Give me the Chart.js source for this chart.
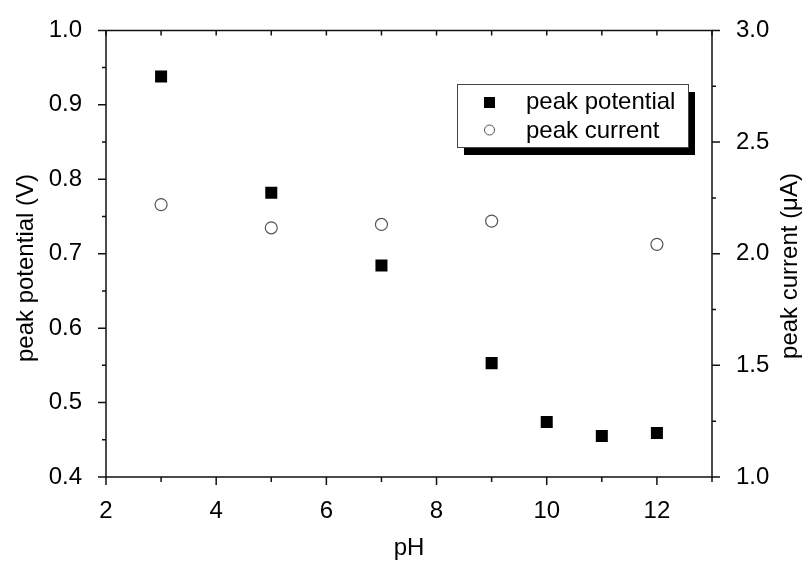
<!DOCTYPE html>
<html>
<head>
<meta charset="utf-8">
<script src="https://cdn.jsdelivr.net/npm/chart.js@4/dist/chart.umd.min.js"></script>
<style>
  body { margin: 0; background: #fff; }
  canvas { display: block; }
</style>
</head>
<body>
<canvas id="chart" width="803" height="561"></canvas>
<script>
// data
const phPotential = [3, 5, 7, 9, 10, 11, 12];
const peakPotential = [0.938, 0.782, 0.684, 0.553, 0.474, 0.455, 0.459];
const phCurrent = [3, 5, 7, 9, 12];
const peakCurrent = [2.22, 2.116, 2.131, 2.146, 2.042];

const xTicks = [2, 4, 6, 8, 10, 12];
const yLeftTicks = [0.4, 0.5, 0.6, 0.7, 0.8, 0.9, 1.0];
const yRightTicks = [1.0, 1.5, 2.0, 2.5, 3.0];

const FONT = "'Liberation Sans', Arial, sans-serif";
const tickFont = { family: FONT, size: 24 };

// frame, major/minor ticks, titles and the shadowed legend
const decor = {
  id: 'decor',
  afterDraw(chart) {
    const ctx = chart.ctx;
    const { left, right, top, bottom } = chart.chartArea;
    const x = chart.scales.x, y = chart.scales.y, y1 = chart.scales.y1;
    ctx.save();
    ctx.strokeStyle = '#111';
    ctx.lineWidth = 1.5;
    ctx.beginPath();
    ctx.moveTo(left, top); ctx.lineTo(left, bottom);
    ctx.lineTo(right, bottom); ctx.lineTo(right, top);
    ctx.lineTo(left, top);
    ctx.stroke();

    ctx.beginPath();
    // bottom: outward, top: inward
    for (let v = 2; v <= 13; v++) {
      const px = x.getPixelForValue(v);
      const len = v % 2 === 0 ? 8 : 5;
      ctx.moveTo(px, bottom); ctx.lineTo(px, bottom + len);
      ctx.moveTo(px, top); ctx.lineTo(px, top + 5);
    }
    for (let i = 0; i <= 12; i++) {
      const v = 0.4 + i * 0.05;
      const py = y.getPixelForValue(v);
      const len = i % 2 === 0 ? 8 : 4;
      ctx.moveTo(left, py); ctx.lineTo(left - len, py);
    }
    for (let i = 0; i <= 8; i++) {
      const v = 1 + i * 0.25;
      const py = y1.getPixelForValue(v);
      const len = i % 2 === 0 ? 8 : 4;
      ctx.moveTo(right, py); ctx.lineTo(right + len, py);
    }
    ctx.stroke();

    // axis titles
    ctx.fillStyle = '#000';
    ctx.font = '24px ' + FONT;
    ctx.textAlign = 'center';
    ctx.textBaseline = 'middle';
    ctx.fillText('pH', (left + right) / 2, 548);
    ctx.save();
    ctx.translate(26, 268);
    ctx.rotate(-Math.PI / 2);
    ctx.fillText('peak potential (V)', 0, 0);
    ctx.restore();
    ctx.save();
    ctx.translate(790, 266);
    ctx.rotate(-Math.PI / 2);
    ctx.fillText('peak current (\u03bcA)', 0, 0);
    ctx.restore();

    // legend box with drop shadow
    const bx = 457, by = 84, bw = 231, bh = 63;
    ctx.fillStyle = '#000';
    ctx.fillRect(bx + 7, by + 8, bw, bh);
    ctx.fillStyle = '#fff';
    ctx.fillRect(bx, by, bw, bh);
    ctx.strokeStyle = '#444';
    ctx.lineWidth = 1;
    ctx.strokeRect(bx + 0.5, by + 0.5, bw, bh);
    ctx.fillStyle = '#000';
    ctx.fillRect(484, 97, 11, 11);
    ctx.beginPath();
    ctx.arc(489.5, 130, 5, 0, Math.PI * 2);
    ctx.strokeStyle = '#555';
    ctx.stroke();
    ctx.fillStyle = '#000';
    ctx.textAlign = 'left';
    ctx.fillText('peak potential', 526, 102);
    ctx.fillText('peak current', 526, 131);
    ctx.restore();
  }
};

const setTicks = values => scale => { scale.ticks = values.map(v => ({ value: v })); };

new Chart(document.getElementById('chart'), {
  type: 'scatter',
  data: {
    datasets: [
      {
        label: 'peak potential',
        data: phPotential.map((p, i) => ({ x: p, y: peakPotential[i] })),
        yAxisID: 'y',
        pointStyle: 'rect',
        pointRadius: 8.5,
        backgroundColor: '#000',
        borderColor: '#000',
        borderWidth: 0
      },
      {
        label: 'peak current',
        data: phCurrent.map((p, i) => ({ x: p, y: peakCurrent[i] })),
        yAxisID: 'y1',
        pointStyle: 'circle',
        pointRadius: 6,
        backgroundColor: '#fff',
        borderColor: '#555',
        borderWidth: 1.2
      }
    ]
  },
  options: {
    responsive: false,
    animation: false,
    layout: { padding: { top: 29, left: 0, right: 0, bottom: 0 } },
    plugins: {
      legend: { display: false },
      tooltip: { enabled: false }
    },
    scales: {
      x: {
        type: 'linear',
        position: 'bottom',
        min: 2,
        max: 13,
        afterBuildTicks: setTicks(xTicks),
        afterFit: s => { s.height = 84; },
        grid: { display: false },
        border: { display: false },
        ticks: { font: tickFont, color: '#000', padding: 12, maxRotation: 0 }
      },
      y: {
        position: 'left',
        min: 0.4,
        max: 1.0,
        afterBuildTicks: setTicks(yLeftTicks),
        afterFit: s => { s.width = 106; },
        grid: { display: false },
        border: { display: false },
        ticks: { font: tickFont, color: '#000', padding: 16, callback: v => v.toFixed(1) }
      },
      y1: {
        position: 'right',
        min: 1.0,
        max: 3.0,
        afterBuildTicks: setTicks(yRightTicks),
        afterFit: s => { s.width = 91; },
        grid: { display: false },
        border: { display: false },
        ticks: { font: tickFont, color: '#000', padding: 16, callback: v => v.toFixed(1) }
      }
    }
  },
  plugins: [decor]
});
</script>
</body>
</html>
